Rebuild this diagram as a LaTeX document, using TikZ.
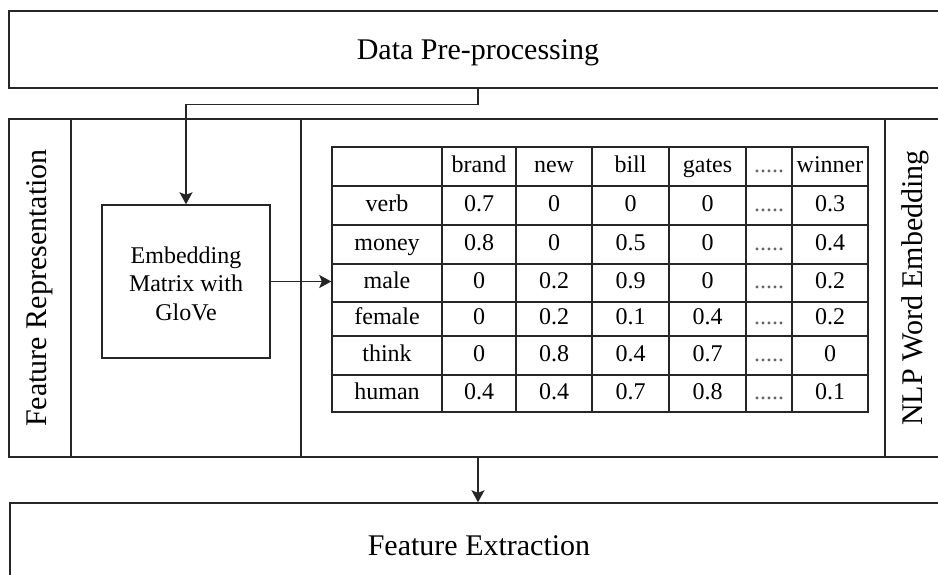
\documentclass[tikz,border=0pt]{standalone}
\usepackage{fontspec}
\setmainfont{Liberation Serif}
\usetikzlibrary{arrows.meta}
\newcommand{\fivedots}{\textcolor{black!60}{.....}}
\begin{document}
\begin{tikzpicture}[x=1pt,y=-1pt,
  box/.style={draw=black!85, line width=1.4pt, inner sep=0pt},
  big/.style={font=\fontsize{30}{36}\selectfont},
  cell/.style={font=\fontsize{24}{28}\selectfont, inner sep=0pt, text height=16pt, text depth=5pt},
  conn/.style={draw=black!85, line width=1.4pt, -{Stealth[length=12pt,width=13pt,inset=2.5pt]}},
  gridline/.style={draw=black!85, line width=1.4pt}]
\useasboundingbox (0,0) rectangle (938,574);
\clip (0,0) rectangle (938,574);
% outer boxes
\node[box, minimum width=938pt, minimum height=77pt] (pre) at (478,49.5) {};
\node[big] (pretxt) at (478,53) {Data Pre-processing};
\node[box, minimum width=938pt, minimum height=338pt] (mid) at (478,288) {};
\node[box, minimum width=938pt, minimum height=84pt] (fe) at (479,545) {};
\node[big] (fetxt) at (479,546) {Feature Extraction};
% dividers in middle box
\draw[gridline] (71,119) -- (71,457);
\draw[gridline] (301,119) -- (301,457);
\draw[gridline] (885,119) -- (885,457);
\node[big, rotate=90] (fr) at (40,288) {Feature Representation};
\node[big, rotate=90] (nlp) at (915,288) {NLP Word Embedding};
% embedding box
\node[box, minimum width=168pt, minimum height=153pt] (emb) at (186,281.5) {};
\node[font=\fontsize{24}{28.5}\selectfont, align=center] (embtxt) at (186,283.5) {Embedding\\Matrix with\\GloVe};
% table
\node[box, minimum width=536pt, minimum height=265pt] (tbl) at (600,279.5) {};
\foreach \x in {442,516,592,669,746,792} \draw[gridline] (\x,147) -- (\x,412);
\foreach \y in {186,225,264,302,336,375} \draw[gridline] (332,\y) -- (868,\y);
\foreach [count=\r] \yc/\a/\b/\c/\d/\e/\f/\g in {
  166.5/{}/brand/new/bill/gates/\fivedots/winner,
  205.5/verb/0.7/0/0/0/\fivedots/0.3,
  244.5/money/0.8/0/0.5/0/\fivedots/0.4,
  283/male/0/0.2/0.9/0/\fivedots/0.2,
  319/female/0/0.2/0.1/0.4/\fivedots/0.2,
  355.5/think/0/0.8/0.4/0.7/\fivedots/0,
  393.5/human/0.4/0.4/0.7/0.8/\fivedots/0.1} {
  \node[cell] (c\r-1) at (387,\yc) {\a};
  \node[cell] (c\r-2) at (479,\yc) {\b};
  \node[cell] (c\r-3) at (554,\yc) {\c};
  \node[cell] (c\r-4) at (630.5,\yc) {\d};
  \node[cell] (c\r-5) at (707.5,\yc) {\e};
  \node[cell] (c\r-6) at (769,\yc) {\f};
  \node[cell] (c\r-7) at (830,\yc) {\g};
}
% connectors
\draw[conn] (pre.south) -- ++(0,16) -| (emb.north);
\draw[conn] (emb.east) -- (emb.east -| tbl.west);
\draw[conn] (mid.south) -- (mid.south |- fe.north);
\end{tikzpicture}
\end{document}
